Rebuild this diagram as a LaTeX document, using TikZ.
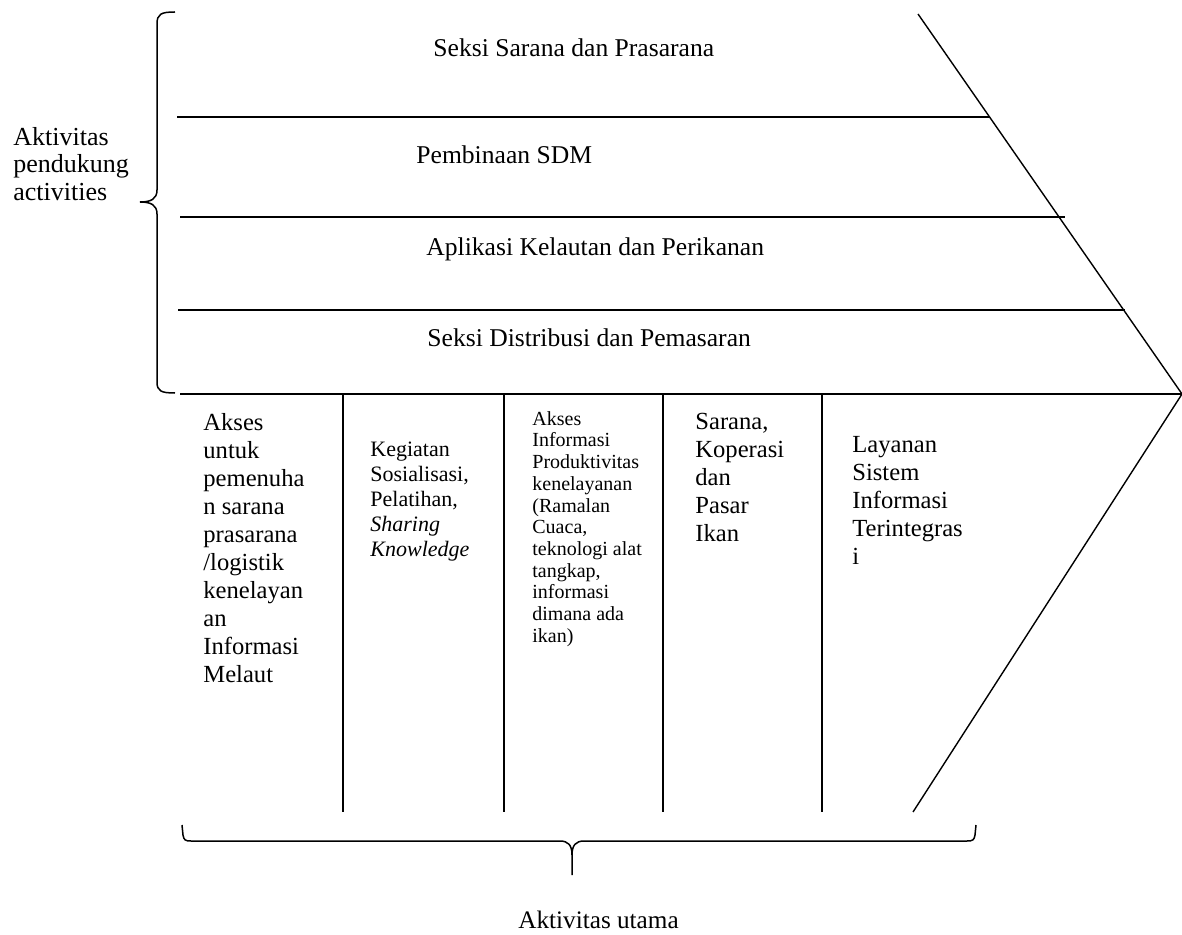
\documentclass[tikz,border=0pt]{standalone}
\usepackage{fontspec}
\setmainfont{Liberation Serif}
\usetikzlibrary{positioning, calc}

\begin{document}
\begin{tikzpicture}[
  x=0.5pt, y=-0.5pt,
  band/.style={font=\fontsize{12.8}{15}\selectfont, anchor=base west, inner sep=0pt},
  column/.style={align=left, anchor=north west, inner sep=0pt},
  bigtext/.style={font=\fontsize{12.3}{14}\selectfont},
  line/.style={draw, line width=0.9pt},
  brace/.style={draw, line width=0.75pt}
]
\useasboundingbox (0,0) rectangle (1182,935);

% Fishbone head
\coordinate (headtop) at (918,14);
\coordinate (tip) at (1182,394);
\coordinate (headbot) at (913,812);
\draw[line, line width=0.7pt] (headtop) -- (tip) -- (headbot);

% Support bands
\draw[line] (177,117) -- (990,117);
\draw[line] (180,217) -- (1065,217);
\draw[line] (178,310) -- (1125,310);
\draw[line] (180,394) -- (tip);

\node[band] (sarpras) at (433,57) {Seksi Sarana dan Prasarana};
\node[band] (sdm) at (416,164) {Pembinaan SDM};
\node[band] (aplikasi) at (426,256) {Aplikasi Kelautan dan Perikanan};
\node[band] (distribusi) at (427,347) {Seksi Distribusi dan Pemasaran};

% Primary columns
\foreach \x in {343,504,663,822}
  \draw[line] (\x,394) -- (\x,812);

\node[column, bigtext] (akses) at (203,413) {Akses\\untuk\\pemenuha\\n sarana\\prasarana\\/logistik\\kenelayan\\an\\Informasi\\Melaut};
\node[column, font=\fontsize{11}{12.5}\selectfont] (kegiatan) at (370,442) {Kegiatan\\Sosialisasi,\\Pelatihan,\\\textit{Sharing}\\\textit{Knowledge}};
\node[column, font=\fontsize{10}{10.85}\selectfont] (info) at (532,411) {Akses\\Informasi\\Produktivitas\\kenelayanan\\(Ramalan\\Cuaca,\\teknologi alat\\tangkap,\\informasi\\dimana ada\\ikan)};
\node[column, bigtext] (pasar) at (695,413) {Sarana,\\Koperasi\\dan\\Pasar\\Ikan};
\node[column, bigtext] (layanan) at (852,436) {Layanan\\Sistem\\Informasi\\Terintegras\\i};

% Braces
\draw[brace] (175,12) .. controls (161,12) and (157,14) .. (157,24) -- (157,190)
  .. controls (157,199) and (151,202) .. (140,202)
  .. controls (151,202) and (157,205) .. (157,214) -- (157,382)
  .. controls (157,391) and (161,393) .. (175,393);
\node[column, font=\fontsize{13}{13.75}\selectfont] (pendukung) at (13,127) {Aktivitas\\pendukung\\activities};

\draw[brace] (182,825) -- (183,835) .. controls (184,840) and (185,841) .. (191,841) -- (560,841)
  .. controls (568,841) and (572,845) .. (572,855) -- (572,875);
\draw[brace] (572,855) .. controls (572,845) and (576,841) .. (584,841) -- (967,841)
  .. controls (973,841) and (974,840) .. (975,835) -- (976,825);
\node[band, font=\fontsize{12.6}{15}\selectfont] (utama) at (518,928) {Aktivitas utama};

\end{tikzpicture}
\end{document}
